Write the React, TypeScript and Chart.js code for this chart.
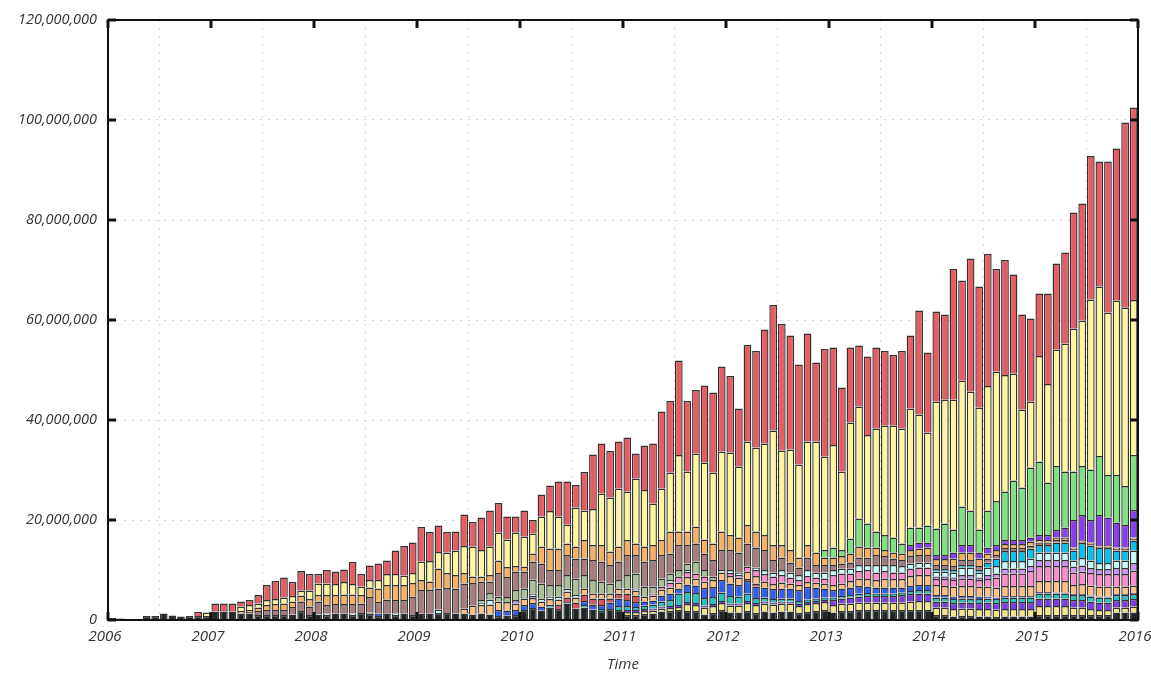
import React, { useEffect, useRef } from 'react';
import { Chart, registerables } from 'chart.js';

Chart.register(...registerables);

// ---------- categories ----------
const years = [2006, 2007, 2008, 2009, 2010, 2011, 2012, 2013, 2014, 2015];
const monthNames = ['01', '02', '03', '04', '05', '06', '07', '08', '09', '10', '11', '12'];
const months: string[] = years.flatMap((y) => monthNames.map((m) => `${y}-${m}`));

// x-axis tick labels
const xTickYears = [2006, 2007, 2008, 2009, 2010, 2011, 2012, 2013, 2014, 2015, 2016];
// y-axis tick values (millions)
const yTicksMillions = [0, 20, 40, 60, 80, 100, 120];

// ---------- series values, in millions, one row per year (Jan..Dec) ----------
const dark = [
  0.4, 0.3, 0, 0, 0.8, 0.8, 1.3, 0.9, 0.7, 0.8, 0.8, 0.8,
  1.7, 1.7, 1.7, 1.3, 1.3, 1.0, 1.0, 1.0, 1.0, 1.1, 1.8, 1.0,
  1.1, 1.0, 1.3, 1.3, 1.0, 1.4, 1.2, 0.8, 1.3, 1.0, 1.3, 1.0,
  1.3, 1.3, 1.4, 1.4, 1.3, 1.3, 1.1, 1.3, 1.1, 0.8, 0.9, 1.0,
  2.0, 2.4, 1.9, 2.5, 2.2, 3.3, 2.3, 2.5, 2.1, 1.8, 2.2, 2.0,
  1.0, 1.0, 1.2, 1.3, 1.7, 1.8, 2.0, 1.8, 1.8, 1.1, 1.4, 2.0,
  1.5, 1.5, 1.8, 1.4, 1.7, 1.5, 1.7, 1.7, 1.4, 1.6, 1.8, 2.0,
  1.5, 1.8, 1.8, 2.0, 2.0, 2.0, 2.0, 2.0, 2.0, 2.0, 2.0, 2.0,
  1.0, 1.0, 0.7, 0.8, 0.8, 0.7, 0.7, 0.6, 0.7, 0.7, 0.7, 0.7,
  1.0, 1.0, 1.0, 1.0, 1.0, 1.0, 1.0, 1.0, 1.0, 1.5, 1.5, 1.5,
];
const lemon = [
  0, 0, 0, 0, 0, 0, 0, 0, 0, 0, 0, 0,
  0, 0, 0, 0, 0, 0, 0, 0, 0, 0, 0, 0,
  0, 0, 0, 0, 0, 0, 0, 0, 0, 0, 0, 0,
  0, 0, 0, 0, 0, 0, 0, 0, 0, 0, 0, 0,
  0, 0, 0, 0, 0, 0, 0, 0, 0, 0, 0, 0,
  0.6, 0.6, 0.6, 0.6, 0.6, 0.6, 0.6, 1.4, 1.2, 1.4, 1.4, 1.4,
  1.4, 1.4, 1.6, 1.6, 1.6, 1.6, 1.6, 1.6, 1.4, 1.6, 1.6, 1.6,
  1.5, 1.5, 1.5, 1.5, 1.5, 1.5, 1.5, 1.5, 1.5, 1.7, 1.8, 1.8,
  1.5, 1.5, 1.5, 1.5, 1.5, 1.5, 1.5, 1.5, 1.5, 1.5, 1.5, 1.5,
  1.8, 1.8, 1.8, 1.8, 1.5, 1.5, 1.2, 1.0, 1.0, 1.0, 1.0, 1.2,
];
const violet = [
  0, 0, 0, 0, 0, 0, 0, 0, 0, 0, 0, 0,
  0, 0, 0, 0, 0, 0, 0, 0, 0, 0, 0, 0,
  0, 0, 0, 0, 0, 0, 0, 0, 0, 0, 0, 0,
  0, 0, 0, 0, 0, 0, 0, 0, 0, 0, 0, 0,
  0, 0, 0, 0, 0, 0, 0, 0, 0, 0, 0, 0,
  0.4, 0.4, 0.4, 0.4, 0.4, 0.4, 0.4, 0.4, 0.4, 0.4, 0.4, 0.4,
  0.4, 0.4, 0.4, 0.4, 0.4, 0.4, 0.4, 0.4, 0.4, 0.4, 0.4, 0.4,
  1.0, 1.0, 1.2, 1.2, 1.3, 1.3, 1.3, 1.3, 1.5, 1.5, 1.5, 1.5,
  1.2, 1.2, 1.2, 1.2, 1.2, 1.2, 1.3, 1.3, 1.4, 1.4, 1.4, 1.4,
  1.5, 1.5, 1.5, 1.5, 1.5, 1.5, 1.5, 1.5, 1.5, 1.5, 1.5, 1.5,
];
const teal = [
  0, 0, 0, 0, 0, 0, 0, 0, 0, 0, 0, 0,
  0, 0, 0, 0, 0, 0, 0, 0, 0, 0, 0, 0,
  0, 0, 0, 0, 0, 0, 0, 0, 0, 0, 0, 0,
  0, 0, 0, 0, 0, 0, 0, 0, 0, 0, 0, 0,
  0, 0, 0, 0.5, 0, 0, 0, 0.5, 0, 0.4, 0, 0.8,
  0.8, 0.6, 0.7, 0.8, 1.0, 1.2, 2.3, 2.0, 2.0, 1.5, 1.4, 1.7,
  1.5, 1.4, 1.5, 1.0, 0.8, 0.7, 0.6, 0.6, 0.6, 0.5, 0.5, 0.5,
  0.5, 0.5, 0.5, 0.6, 0.6, 0.5, 0.5, 0.5, 0.5, 0.6, 0.7, 0.7,
  0.8, 0.8, 0.8, 0.8, 0.8, 0.8, 0.8, 0.8, 0.9, 0.9, 0.9, 0.9,
  1.0, 1.0, 1.0, 1.0, 1.0, 1.0, 1.0, 1.0, 1.0, 1.0, 1.0, 1.0,
];
const blue = [
  0, 0, 0, 0, 0, 0, 0, 0, 0, 0, 0, 0,
  0, 0, 0, 0, 0, 0, 0, 0, 0, 0, 0, 0,
  0, 0, 0, 0, 0, 0, 0, 0.5, 0, 0, 0, 0,
  0, 0, 0, 0, 0, 0, 0, 0, 0, 1.2, 1.0, 1.0,
  1.0, 1.0, 0.8, 0, 0, 0.3, 0, 0.8, 1.0, 0.8, 1.3, 1.5,
  1.2, 1.0, 0.8, 0.8, 1.2, 1.3, 1.0, 1.5, 1.5, 2.0, 2.0, 2.5,
  2.5, 2.3, 2.5, 2.3, 2.0, 2.0, 2.0, 2.0, 2.2, 2.5, 2.2, 1.8,
  1.5, 1.5, 1.5, 1.5, 1.3, 1.2, 1.2, 1.2, 1.0, 1.0, 1.0, 1.0,
  0.5, 0.5, 0.5, 0.5, 0.5, 0.5, 0.4, 0.3, 0.3, 0.3, 0.3, 0.3,
  0.3, 0.3, 0.2, 0.2, 0.2, 0.2, 0.2, 0.2, 0.2, 0.2, 0.2, 0.2,
];
const crimson = [
  0, 0, 0, 0, 0, 0, 0, 0, 0, 0, 0, 0,
  0, 0, 0, 0, 0, 0, 0, 0, 0, 0, 0, 0,
  0, 0, 0, 0, 0, 0, 0, 0, 0, 0, 0, 0,
  0, 0, 0, 0, 0, 0, 0, 0, 0, 0, 0, 0,
  0, 0, 0, 0, 0.8, 0.9, 1.2, 1.3, 1.2, 1.3, 0.8, 1.0,
  1.3, 1.3, 0, 0, 0, 0, 0, 0, 0, 0, 0, 0,
  0, 0, 0.4, 0.6, 0, 0, 0, 0, 0, 0, 0, 0,
  0, 0, 0, 0, 0, 0, 0, 0, 0, 0, 0, 0,
  0, 0, 0, 0, 0, 0, 0, 0, 0, 0, 0, 0,
  0, 0, 0, 0, 0, 0, 0, 0, 0, 0, 0, 0,
];
const peach = [
  0, 0, 0, 0, 0, 0, 0, 0, 0, 0, 0, 0,
  0, 0, 0, 0, 0, 0, 0, 0, 0, 0, 0, 0,
  0, 0, 0, 0, 0, 0, 0, 0, 0, 0, 0, 0,
  0, 0, 0, 0, 0, 1.0, 1.8, 1.7, 2.0, 1.7, 1.7, 1.3,
  1.3, 1.0, 1.0, 1.2, 1.1, 1.2, 1.0, 1.2, 1.0, 1.0, 1.0, 1.0,
  1.0, 1.0, 1.0, 1.0, 1.2, 1.2, 1.2, 1.5, 1.4, 1.3, 1.4, 1.5,
  1.5, 1.5, 1.5, 1.5, 1.2, 1.0, 1.2, 1.0, 1.0, 1.0, 1.0, 1.0,
  1.0, 1.0, 1.3, 1.5, 1.5, 1.5, 1.8, 1.7, 1.7, 2.0, 2.0, 2.0,
  2.0, 1.8, 2.0, 2.0, 2.0, 2.0, 2.0, 2.0, 2.0, 2.0, 2.0, 2.0,
  2.2, 2.2, 2.3, 2.3, 1.8, 2.0, 2.0, 2.0, 2.0, 1.5, 1.5, 1.5,
];
const pink = [
  0, 0, 0, 0, 0, 0, 0, 0, 0, 0, 0, 0,
  0, 0, 0, 0, 0, 0, 0, 0, 0, 0, 0, 0,
  0, 0, 0, 0, 0, 0, 0, 0, 0, 0, 0, 0,
  0, 0, 0, 0, 0, 0, 0, 0, 0, 0, 0, 0,
  0, 0, 0, 0, 0, 0, 0, 0, 0, 0, 0, 0,
  0, 0, 0, 0.4, 0.6, 1.0, 1.2, 1.0, 1.0, 1.0, 0, 0,
  0.6, 0.5, 1.0, 1.2, 1.5, 1.5, 1.5, 1.2, 1.0, 1.2, 1.0, 1.0,
  2.0, 2.0, 1.5, 1.5, 1.8, 1.5, 1.5, 1.3, 1.3, 1.5, 1.5, 1.5,
  1.2, 1.4, 1.3, 1.5, 1.5, 1.3, 1.5, 2.0, 2.5, 2.5, 2.5, 3.0,
  3.0, 3.0, 3.0, 3.0, 2.5, 2.5, 2.5, 2.5, 2.5, 2.5, 2.5, 3.0,
];
const lavender = [
  0, 0, 0, 0, 0, 0, 0, 0, 0, 0, 0, 0,
  0, 0, 0, 0, 0, 0, 0, 0, 0, 0, 0, 0,
  0, 0, 0, 0, 0, 0, 0, 0, 0, 0, 0, 0,
  0, 0, 0, 0, 0, 0, 0, 0, 0, 0, 0, 0.7,
  0, 0.4, 0, 0, 0, 0, 0, 0, 0, 0, 0, 0,
  0, 0, 0, 0, 0, 0, 0, 0, 0, 0, 0, 0,
  0, 0, 0, 0, 0, 0, 0, 0, 0, 0, 0, 0,
  0, 0, 0, 0, 0, 0, 0, 0, 0, 0, 0, 0,
  0.5, 0.5, 0.5, 0.7, 0.7, 0.5, 0.8, 0.8, 1.0, 1.0, 1.0, 1.0,
  1.2, 1.2, 1.2, 1.2, 1.2, 1.2, 1.0, 1.0, 1.0, 1.2, 1.2, 1.5,
];
const ice = [
  0, 0, 0, 0, 0, 0, 0, 0, 0, 0, 0, 0,
  0, 0, 0, 0, 0, 0, 0, 0, 0, 0, 0, 0,
  0.3, 0.3, 0, 0, 0.3, 0, 0, 0, 0, 0.3, 0, 0,
  0, 0, 0.7, 0, 0, 0, 0, 0.5, 1.0, 0, 0, 0,
  0, 0.5, 0.6, 0.5, 0.6, 0.6, 0.5, 0, 0, 0, 0, 0,
  0, 0.4, 0, 0, 0, 0.5, 0, 0.4, 0, 0, 0, 0.5,
  0.6, 0.5, 0, 0.5, 0.8, 0.8, 1.0, 1.0, 1.0, 1.2, 1.0, 1.2,
  1.0, 1.0, 1.0, 1.2, 1.0, 1.5, 1.2, 1.5, 1.3, 1.0, 1.0, 1.0,
  1.0, 1.0, 1.0, 1.5, 1.5, 1.0, 1.5, 1.5, 1.5, 1.5, 1.5, 1.5,
  1.5, 1.5, 1.5, 1.5, 1.2, 1.5, 1.5, 1.2, 1.2, 1.5, 1.5, 2.5,
];
const cyan = [
  0, 0, 0, 0, 0, 0, 0, 0, 0, 0, 0, 0,
  0, 0, 0, 0, 0, 0, 0, 0, 0, 0, 0, 0,
  0, 0, 0, 0, 0, 0, 0, 0, 0, 0, 0, 0,
  0, 0, 0, 0, 0, 0, 0, 0, 0, 0, 0, 0,
  0, 0, 0, 0, 0, 0, 0, 0, 0, 0, 0, 0,
  0, 0, 0, 0, 0, 0, 0, 0, 0, 0, 0, 0,
  0, 0, 0, 0, 0, 0, 0, 0, 0, 0, 0, 0,
  0, 0, 0, 0, 0, 0, 0, 0, 0, 0, 0, 0,
  0.5, 0.5, 0.5, 0.5, 0.5, 0.5, 1.0, 1.5, 2.0, 2.0, 2.0, 2.0,
  1.5, 1.5, 2.0, 2.0, 2.0, 3.0, 3.0, 3.0, 3.0, 2.0, 2.0, 2.0,
];
const sage = [
  0, 0, 0, 0, 0, 0, 0, 0, 0, 0, 0, 0,
  0, 0, 0, 0, 0, 0, 0, 0, 0, 0, 0, 0,
  0, 0, 0, 0, 0, 0, 0.3, 0, 0, 0, 0, 0,
  0, 0, 0, 0, 0, 0, 0, 0.5, 1.3, 1.0, 1.0, 2.0,
  2.0, 2.8, 3.0, 2.3, 2.3, 2.7, 3.3, 2.7, 2.7, 2.4, 2.0, 1.7,
  2.7, 3.0, 2.0, 1.4, 1.6, 1.3, 1.3, 1.3, 2.4, 1.3, 0.7, 0,
  0, 0, 0, 0, 0, 0, 0, 0, 0, 0, 0, 0,
  0, 0, 0, 0, 0, 0, 0, 0, 0, 0, 0, 0,
  0, 0, 0, 0, 0, 0, 0, 0, 0, 0, 0, 0,
  0, 0, 0, 0, 0, 0, 0, 0, 0, 0, 0, 0,
];
const mauve = [
  0, 0, 0, 0, 0, 0, 0, 0, 0, 0, 0, 0,
  0, 0, 0, 0, 0.3, 0.8, 1.0, 1.0, 1.0, 1.5, 1.9, 1.7,
  2.3, 1.7, 1.9, 1.9, 1.9, 1.9, 3.1, 2.3, 2.8, 2.7, 2.7, 3.7,
  4.7, 4.7, 4.2, 5.0, 5.0, 5.0, 4.5, 3.7, 2.3, 4.7, 4.0, 3.7,
  3.4, 3.6, 4.0, 3.0, 3.0, 4.0, 4.0, 3.3, 4.0, 4.0, 3.7, 3.7,
  4.0, 3.7, 5.0, 5.3, 4.7, 4.0, 5.0, 3.7, 3.6, 3.3, 3.3, 4.0,
  4.0, 4.0, 4.6, 4.0, 4.0, 2.5, 2.5, 2.0, 1.5, 2.5, 1.5, 1.5,
  1.0, 1.0, 1.2, 1.5, 1.5, 2.0, 1.8, 1.3, 1.2, 1.5, 1.5, 1.5,
  0.8, 0.8, 0.8, 1.0, 1.0, 0.8, 0.8, 0.7, 0.6, 0.6, 0.6, 0.6,
  0.5, 0.5, 0.5, 0.5, 0.3, 0.3, 0.3, 0.3, 0.3, 0.3, 0.3, 0.3,
];
const orange = [
  0, 0, 0, 0, 0, 0, 0, 0, 0, 0, 0, 0,
  0, 0, 0, 0.5, 0.4, 0.7, 1.0, 1.2, 1.3, 1.1, 1.2, 1.5,
  1.3, 2.0, 1.8, 1.9, 1.9, 1.7, 1.9, 2.7, 2.9, 3.0, 3.0, 2.7,
  2.0, 1.7, 4.0, 3.0, 2.7, 2.1, 1.3, 1.0, 1.3, 2.5, 2.0, 1.1,
  1.0, 1.6, 3.4, 4.3, 4.3, 2.3, 2.4, 3.7, 3.0, 3.3, 2.7, 3.0,
  3.0, 2.3, 3.0, 3.0, 3.0, 4.4, 2.7, 2.7, 3.4, 2.8, 3.3, 3.7,
  3.0, 3.0, 3.7, 3.2, 3.0, 3.0, 2.5, 2.5, 2.0, 2.5, 2.5, 1.5,
  1.5, 1.5, 1.8, 2.2, 2.0, 1.5, 1.2, 1.2, 1.3, 1.2, 1.3, 1.5,
  1.2, 1.2, 1.5, 1.5, 1.5, 1.5, 1.0, 1.0, 0.8, 0.8, 0.8, 0.8,
  0.5, 0.5, 0.5, 0.5, 0.3, 0.3, 0.3, 0.3, 0.3, 0.3, 0.3, 0.3,
];
const purple = [
  0, 0, 0, 0, 0, 0, 0, 0, 0, 0, 0, 0,
  0, 0, 0, 0, 0, 0, 0, 0, 0, 0, 0, 0,
  0, 0, 0, 0, 0, 0, 0, 0, 0, 0, 0, 0,
  0, 0, 0, 0, 0, 0, 0, 0, 0, 0, 0, 0,
  0, 0, 0, 0, 0, 0, 0, 0, 0, 0, 0, 0,
  0, 0, 0, 0, 0, 0, 0, 0, 0, 0, 0, 0,
  0, 0, 0, 0, 0, 0, 0, 0, 0, 0, 0, 0,
  0, 0, 0, 0, 0, 0, 0, 0, 0, 1.0, 1.2, 1.0,
  0.8, 0.8, 1.2, 1.5, 1.5, 1.2, 1.2, 1.0, 0.8, 0.8, 0.8, 0.8,
  1.0, 1.0, 1.5, 2.0, 5.5, 5.0, 4.5, 6.0, 5.5, 5.0, 4.5, 5.5,
];
const green = [
  0, 0, 0, 0, 0, 0, 0, 0, 0, 0, 0, 0,
  0, 0, 0, 0, 0, 0, 0, 0, 0, 0, 0, 0,
  0, 0, 0, 0, 0, 0, 0, 0, 0, 0, 0, 0,
  0, 0, 0, 0, 0, 0, 0, 0, 0, 0, 0, 0,
  0, 0, 0, 0, 0, 0, 0, 0, 0, 0, 0, 0,
  0, 0, 0, 0, 0, 0, 0, 0, 0, 0, 0, 0,
  0, 0, 0, 0, 0, 0, 0, 0, 0, 0, 0, 1.5,
  2.0, 1.2, 3.0, 5.6, 4.8, 3.2, 3.0, 3.0, 2.0, 3.5, 3.0, 3.4,
  5.3, 6.3, 4.6, 7.7, 6.9, 4.6, 7.4, 8.8, 9.7, 11.9, 10.5, 14.0,
  14.7, 10.5, 12.8, 11.2, 9.7, 9.8, 10.1, 11.8, 8.5, 9.5, 7.8, 11.0,
];
const yellow = [
  0, 0, 0, 0, 0, 0, 0, 0, 0, 0, 0, 0.7,
  0, 0, 0, 0.9, 1.0, 0.8, 1.0, 1.0, 1.2, 1.1, 1.0, 1.7,
  2.3, 2.3, 2.2, 2.5, 2.1, 1.7, 1.5, 1.7, 2.2, 2.2, 1.9, 2.0,
  3.7, 4.1, 3.3, 4.1, 4.9, 5.4, 6.0, 5.3, 5.7, 5.6, 5.5, 6.7,
  6.0, 4.0, 6.0, 7.5, 6.4, 3.8, 7.8, 5.9, 7.2, 10.3, 10.8, 11.6,
  9.7, 13.0, 11.3, 8.3, 10.3, 11.8, 15.3, 12.0, 14.6, 15.4, 14.2, 16.0,
  16.5, 14.2, 16.7, 16.8, 18.3, 22.9, 18.9, 20.1, 18.6, 20.7, 22.2, 18.7,
  20.5, 15.7, 23.2, 22.4, 17.7, 20.6, 21.9, 22.4, 23.0, 23.8, 22.6, 18.6,
  25.4, 24.8, 26.0, 25.2, 23.8, 24.4, 24.9, 25.9, 23.3, 21.4, 15.6, 13.2,
  21.1, 19.7, 23.3, 25.6, 28.6, 29.1, 34.0, 33.9, 32.5, 34.9, 35.7, 31.0,
];
const red = [
  0, 0, 0, 0, 0, 0, 0, 0, 0, 0, 0.8, 0,
  1.6, 1.6, 1.6, 1.0, 1.0, 1.7, 3.0, 3.6, 4.0, 2.8, 3.9, 3.3,
  1.9, 2.7, 2.5, 2.5, 4.4, 2.5, 2.9, 3.3, 2.7, 4.7, 5.9, 6.1,
  6.9, 5.8, 5.3, 4.1, 3.8, 6.3, 4.9, 6.5, 7.2, 5.9, 4.6, 3.2,
  5.2, 2.7, 4.4, 5.1, 7.0, 8.6, 4.5, 7.7, 10.9, 10.0, 9.3, 9.4,
  10.8, 5.0, 8.9, 12.0, 15.4, 14.3, 18.9, 14.1, 12.7, 15.4, 16.0, 17.0,
  15.3, 11.6, 19.3, 19.3, 22.8, 25.1, 25.3, 22.8, 20.0, 21.6, 15.8, 21.5,
  19.5, 16.8, 15.0, 12.2, 15.7, 16.2, 14.9, 14.1, 15.5, 14.6, 20.8, 16.0,
  18.0, 17.0, 26.1, 20.0, 26.6, 24.2, 26.4, 20.5, 23.0, 19.8, 19.0, 16.6,
  12.5, 18.1, 17.2, 18.2, 23.2, 23.4, 28.7, 25.0, 30.2, 30.4, 37.0, 38.5,
];

// stacking order: bottom first
const seriesList = [
  { name: 'dark', values: dark, color: '#1f2727' },
  { name: 'lemon', values: lemon, color: '#f3e585' },
  { name: 'violet', values: violet, color: '#7b3be6' },
  { name: 'teal', values: teal, color: '#25c4c0' },
  { name: 'blue', values: blue, color: '#2f5ff5' },
  { name: 'crimson', values: crimson, color: '#e0505c' },
  { name: 'peach', values: peach, color: '#ffc183' },
  { name: 'pink', values: pink, color: '#ff8ccd' },
  { name: 'lavender', values: lavender, color: '#cc90ff' },
  { name: 'ice', values: ice, color: '#c6fbfb' },
  { name: 'cyan', values: cyan, color: '#00c3f5' },
  { name: 'sage', values: sage, color: '#a9c194' },
  { name: 'mauve', values: mauve, color: '#a87b7d' },
  { name: 'orange', values: orange, color: '#f8b062' },
  { name: 'purple', values: purple, color: '#8a3df4' },
  { name: 'green', values: green, color: '#7de37d' },
  { name: 'yellow', values: yellow, color: '#fff59d' },
  { name: 'red', values: red, color: '#e65c62' },
];

const monthToX = (label: string) => {
  const [y, m] = label.split('-').map(Number);
  return y + (m - 0.5) / 12;
};

const FONT = "'Open Sans', 'Liberation Sans', sans-serif";

const framePlugin = {
  id: 'frame',
  afterDraw(chart: any) {
    const { ctx, chartArea } = chart;
    const { left, right, top, bottom } = chartArea;
    const xs = chart.scales.x;
    const ys = chart.scales.y;
    ctx.save();
    ctx.strokeStyle = '#111';
    ctx.lineWidth = 2;
    ctx.strokeRect(left, top, right - left, bottom - top);
    ctx.lineWidth = 3;
    const L = 8;
    const seg = (x1: number, y1: number, x2: number, y2: number) => {
      ctx.beginPath();
      ctx.moveTo(x1, y1);
      ctx.lineTo(x2, y2);
      ctx.stroke();
    };
    ys.ticks.forEach((t: any) => {
      const py = ys.getPixelForValue(t.value);
      seg(left, py, left + L, py);
      seg(right, py, right - L, py);
    });
    xs.ticks.forEach((t: any) => {
      const px = xs.getPixelForValue(t.value);
      seg(px, top, px, top + L);
      seg(px, bottom, px, bottom - L);
    });
    ctx.restore();
  },
};

export default function App() {
  const ref = useRef<HTMLCanvasElement | null>(null);

  useEffect(() => {
    if (!ref.current) return;
    const datasets = seriesList.map((s) => ({
      label: s.name,
      data: months.map((m, i) => ({ x: monthToX(m), y: s.values[i] ? s.values[i] * 1e6 : null })),
      backgroundColor: s.color,
      borderColor: '#333333',
      borderWidth: 1.4,
      stack: 'all',
      categoryPercentage: 1,
      barPercentage: 0.9,
    }));

    const chart = new Chart(ref.current, {
      type: 'bar',
      data: { datasets: datasets as any },
      plugins: [framePlugin],
      options: {
        animation: false,
        responsive: false,
        devicePixelRatio: 1,
        layout: { padding: { top: 20, right: 13, left: 0, bottom: 0 } },
        plugins: { legend: { display: false }, tooltip: { enabled: false } },
        scales: {
          x: {
            type: 'linear',
            min: xTickYears[0],
            max: xTickYears[xTickYears.length - 1],
            offset: false,
            afterBuildTicks: (scale: any) => {
              scale.ticks = xTickYears.map((v) => ({ value: v }));
            },
            ticks: {
              stepSize: 1,
              autoSkip: false,
              maxRotation: 0,
              padding: 8,
              labelOffset: -3,
              color: '#333',
              font: { family: FONT, size: 15, style: 'italic' },
              callback: (v: any) => String(v),
            },
            grid: { color: '#d6d6d6', drawTicks: false, lineWidth: 1 },
            border: { display: false, dash: [2, 6] },
            title: {
              display: true,
              text: 'Time',
              color: '#333',
              font: { family: FONT, size: 15, style: 'italic' },
              padding: { top: 0, bottom: 0 },
            },
            afterFit: (scale: any) => {
              scale.height = 54;
              scale.paddingLeft = 0;
              scale.paddingRight = 0;
            },
          },
          y: {
            stacked: true,
            min: 0,
            max: yTicksMillions[yTicksMillions.length - 1] * 1e6,
            afterBuildTicks: (scale: any) => {
              scale.ticks = yTicksMillions.map((v) => ({ value: v * 1e6 }));
            },
            ticks: {
              padding: 11,
              color: '#333',
              font: { family: FONT, size: 14.5, style: 'italic' },
              callback: (v: any) => Number(v).toLocaleString('en-US'),
            },
            grid: { color: '#d6d6d6', drawTicks: false, lineWidth: 1 },
            border: { display: false, dash: [2, 6] },
            afterFit: (scale: any) => {
              scale.width = 108;
              scale.paddingTop = 0;
              scale.paddingBottom = 0;
            },
          },
        },
      } as any,
    });
    return () => chart.destroy();
  }, []);

  return (
    <div style={{ position: 'fixed', left: 0, top: 0, width: 1151, height: 674, background: '#fff' }}>
      <canvas ref={ref} width={1151} height={674} style={{ display: 'block', width: 1151, height: 674 }} />
    </div>
  );
}
